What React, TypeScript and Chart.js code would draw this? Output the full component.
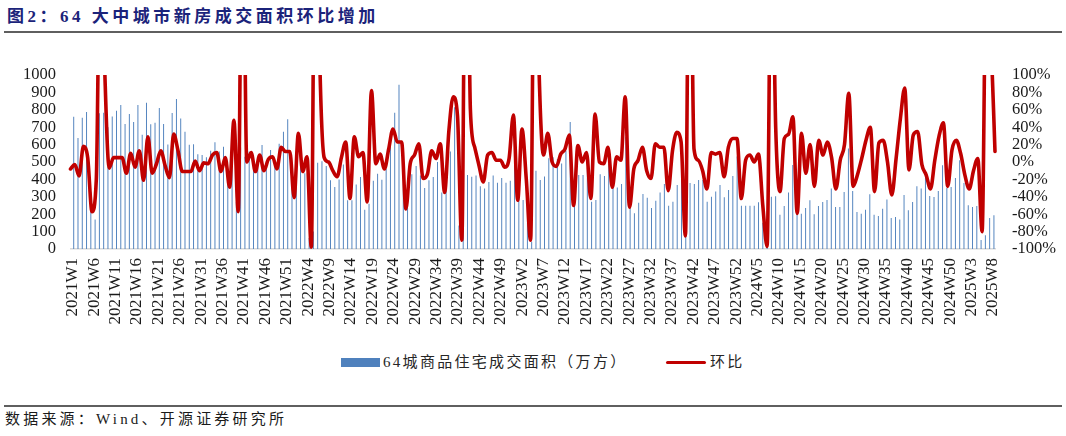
import React, { useEffect, useRef } from 'react';
import Chart from 'chart.js/auto';

// ---- categories ----
const YEARS: number[] = [2021, 2022, 2023, 2024, 2025];
const WEEKS_IN_YEAR: number[] = [52, 52, 52, 52, 8];
const weekLabels: string[] = [];
YEARS.forEach((y, k) => {
  for (let w = 1; w <= WEEKS_IN_YEAR[k]; w++) weekLabels.push(`${y}W${w}`);
});

// ---- series: 64-city new home transaction area (10k sqm) ----
const area2021: number[] = [
  760, 638, 755, 787, 328, 170, 780, 783, 700, 762, 795, 828, 718, 776, 730, 828, 656, 840, 717, 725,
  810, 718, 601, 781, 862, 750, 674, 599, 602, 545, 540, 528, 564, 614, 560, 588, 425, 620, 270, 584,
  530, 560, 540, 500, 598, 502, 569, 502, 605, 674, 745, 432,
];
const area2022: number[] = [
  562, 497, 435, 63, 100, 496, 504, 477, 395, 356, 400, 485, 280, 280, 370, 414, 226, 260, 392, 433,
  398, 461, 638, 783, 944, 433, 240, 430, 477, 423, 350, 395, 414, 500, 324, 337, 561, 815, 135, 420,
  425, 415, 423, 360, 347, 385, 423, 381, 408, 381, 392, 597,
];
const area2023: number[] = [
  330, 282, 282, 42, 450, 397, 416, 521, 527, 517, 492, 565, 730, 368, 425, 425, 469, 272, 282, 429,
  420, 492, 354, 354, 374, 642, 285, 205, 266, 316, 295, 236, 278, 324, 374, 249, 272, 368, 454, 101,
  380, 374, 397, 397, 272, 301, 330, 368, 297, 339, 420, 531,
];
const area2024: number[] = [
  249, 249, 249, 249, 268, 151, 17, 300, 303, 197, 247, 324, 483, 203, 203, 235, 280, 199, 247, 270,
  282, 347, 241, 241, 328, 577, 334, 213, 203, 226, 314, 197, 190, 232, 284, 178, 184, 170, 310, 222,
  270, 360, 347, 433, 305, 299, 334, 481, 351, 356, 408, 510,
];
const area2025: number[] = [379, 251, 241, 247, 52, 79, 178, 194];

// ---- series: week-on-week change (%) ----
const mom2021: number[] = [
  -8, -3, -16, 18, 5, -57, -20, 300, 100, -7, 5, 5, 5, -13, 10, -6, 13, -21, 29, -13,
  -2, 13, -4, -18, 32, 13, -11, -11, -11, 1, -10, -1, -2, 8, 11, -11, 5, -29, 48, -57,
  350, 0, 11, -11, 8, -10, 3, 6, -8, 17, 12, 12,
];
const mom2022: number[] = [
  -41, 33, -11, 6, -98, 400, 110, 5, 0, -10, -17, 5, 23, -42, 29, 6, 11, -46, 82, -2,
  9, -8, 15, 38, 23, 23, -54, -2, 8, 21, -19, -14, 13, 4, 21, -35, 36, 75, 53, -90,
  400, 60, 17, -4, -23, 8, 11, 2, 2, -6, 4, 54,
];
const mom2023: number[] = [
  -44, 38, -20, -90, 350, 100, 8, 33, 0, -5, 9, 15, 31, -50, 19, 0, 11, -42, 55, 0,
  -2, 17, -29, 6, 2, 75, -52, -8, 2, 17, -10, -19, 21, 17, 17, -33, 13, 34, 23, -85,
  350, 15, 2, -10, -31, 11, 9, 11, -17, 17, 27, 27,
];
const mom2024: number[] = [
  -42, 2, 8, 0, 9, -50, -97, 300, 40, -34, 27, 32, 52, -59, 33, -13, 20, -28, 25, 8,
  23, 5, -31, 2, 20, 79, -28, -15, 4, 25, 40, -34, 22, 25, 0, -38, 4, 50, 85, -9,
  31, 35, -3, -15, -31, 2, 30, 45, -28, 14, 25, 10,
];
const mom2025: number[] = [-15, -31, -10, 4, -80, 250, 150, 12];

const areaValues: number[] = [...area2021, ...area2022, ...area2023, ...area2024, ...area2025];
const momValues: number[] = [...mom2021, ...mom2022, ...mom2023, ...mom2024, ...mom2025];

const LEFT_TICKS_MAX = 1000;
const RIGHT_TICKS_MIN = -100;
const RIGHT_TICKS_MAX = 100;

const SERIF_LATIN = "'Liberation Serif', 'DejaVu Serif', 'Times New Roman', serif";
const SERIF = "'Liberation Serif', 'DejaVu Serif', 'Times New Roman', 'Noto Sans CJK SC', serif";
const BAR_LABEL = '64城商品住宅成交面积（万方）';
const LINE_LABEL = '环比';

export default function App() {
  const canvasRef = useRef<HTMLCanvasElement | null>(null);

  useEffect(() => {
    const canvas = canvasRef.current;
    if (!canvas) return;
    const chart = new Chart(canvas, {
      type: 'bar',
      data: {
        labels: weekLabels,
        datasets: [
          {
            type: 'line',
            label: LINE_LABEL,
            data: momValues,
            borderColor: '#c00000',
            backgroundColor: '#c00000',
            borderWidth: 3.6,
            pointRadius: 0,
            cubicInterpolationMode: 'monotone',
            borderJoinStyle: 'round',
            borderCapStyle: 'round',
            xAxisID: 'x2',
            yAxisID: 'y1',
            order: 0,
            clip: { left: 4, right: 4, top: 0, bottom: 3 } as any,
          } as any,
          {
            type: 'bar',
            label: BAR_LABEL,
            data: areaValues,
            backgroundColor: '#4f81bd',
            barPercentage: 0.45,
            categoryPercentage: 1,
            xAxisID: 'x',
            yAxisID: 'y',
            order: 1,
          } as any,
        ],
      },
      options: {
        responsive: false,
        animation: false,
        devicePixelRatio: 1,
        layout: { padding: { top: 75, left: 0, right: 0, bottom: 0 } },
        plugins: {
          legend: { display: false },
          tooltip: { enabled: false },
          title: { display: false },
        },
        scales: {
          x: {
            type: 'category',
            offset: true,
            grid: { display: false, drawTicks: false },
            border: { display: true, color: '#d9d9d9', width: 1.5 },
            ticks: {
              autoSkip: false,
              maxRotation: 90,
              minRotation: 90,
              padding: 9,
              color: '#1a1a1a',
              font: { family: SERIF_LATIN, size: 17 },
              callback: function (this: any, value: any, index: number) {
                return index % 5 === 0 ? weekLabels[index] : null;
              },
            },
            afterFit: (scale: any) => {
              scale.height = 96;
            },
          },
          x2: {
            type: 'category',
            offset: false,
            display: false,
          },
          y: {
            position: 'left',
            min: 0,
            max: LEFT_TICKS_MAX,
            grid: { display: false, drawTicks: false },
            border: { display: false },
            ticks: {
              stepSize: 100,
              autoSkip: false,
              padding: 14.5,
              color: '#1a1a1a',
              font: { family: SERIF_LATIN, size: 16.5 },
              callback: (v: any) => String(Math.round(Number(v))),
            },
            afterFit: (scale: any) => {
              scale.width = 70.5;
            },
          },
          y1: {
            position: 'right',
            min: RIGHT_TICKS_MIN,
            max: RIGHT_TICKS_MAX,
            grid: { display: false, drawTicks: false },
            border: { display: false },
            ticks: {
              stepSize: 20,
              autoSkip: false,
              padding: 17,
              color: '#1a1a1a',
              font: { family: SERIF_LATIN, size: 16.5 },
              callback: (v: any) => `${Math.round(Number(v))}%`,
            },
            afterFit: (scale: any) => {
              scale.width = 71;
            },
          },
        },
      } as any,
    });
    return () => chart.destroy();
  }, []);

  const legendText: React.CSSProperties = {
    position: 'absolute',
    top: 353,
    fontFamily: SERIF,
    fontSize: 15,
    lineHeight: '18px',
    letterSpacing: '2.3px',
    color: '#262626',
    whiteSpace: 'nowrap',
  };

  return (
    <div
      style={{
        position: 'fixed',
        left: 0,
        top: 0,
        width: 1066,
        height: 436,
        background: '#ffffff',
        overflow: 'hidden',
      }}
    >
      <div
        style={{
          position: 'absolute',
          left: 7,
          top: 7,
          fontFamily: SERIF,
          fontWeight: 'bold',
          fontSize: 17,
          lineHeight: '20px',
          letterSpacing: '3.5px',
          color: '#1b237a',
          whiteSpace: 'nowrap',
        }}
      >
        图2：64 大中城市新房成交面积环比增加
      </div>
      <div style={{ position: 'absolute', left: 4, top: 31, width: 1058, height: 1.5, background: '#5f5f5f' }} />
      <canvas ref={canvasRef} width={1066} height={345} style={{ position: 'absolute', left: 0, top: 0 }} />
      <div style={{ position: 'absolute', left: 341, top: 358, width: 39, height: 9, background: '#4f81bd' }} />
      <div style={{ ...legendText, left: 383 }}>{BAR_LABEL}</div>
      <div
        style={{ position: 'absolute', left: 666, top: 361, width: 40, height: 3, background: '#c00000', borderRadius: 1.5 }}
      />
      <div style={{ ...legendText, left: 710 }}>{LINE_LABEL}</div>
      <div style={{ position: 'absolute', left: 4, top: 405, width: 1058, height: 1.5, background: '#5f5f5f' }} />
      <div
        style={{
          position: 'absolute',
          left: 5,
          top: 410,
          fontFamily: SERIF,
          fontSize: 15,
          lineHeight: '18px',
          letterSpacing: '3.2px',
          color: '#1a1a1a',
          whiteSpace: 'nowrap',
        }}
      >
        数据来源：Wind、开源证券研究所
      </div>
    </div>
  );
}
